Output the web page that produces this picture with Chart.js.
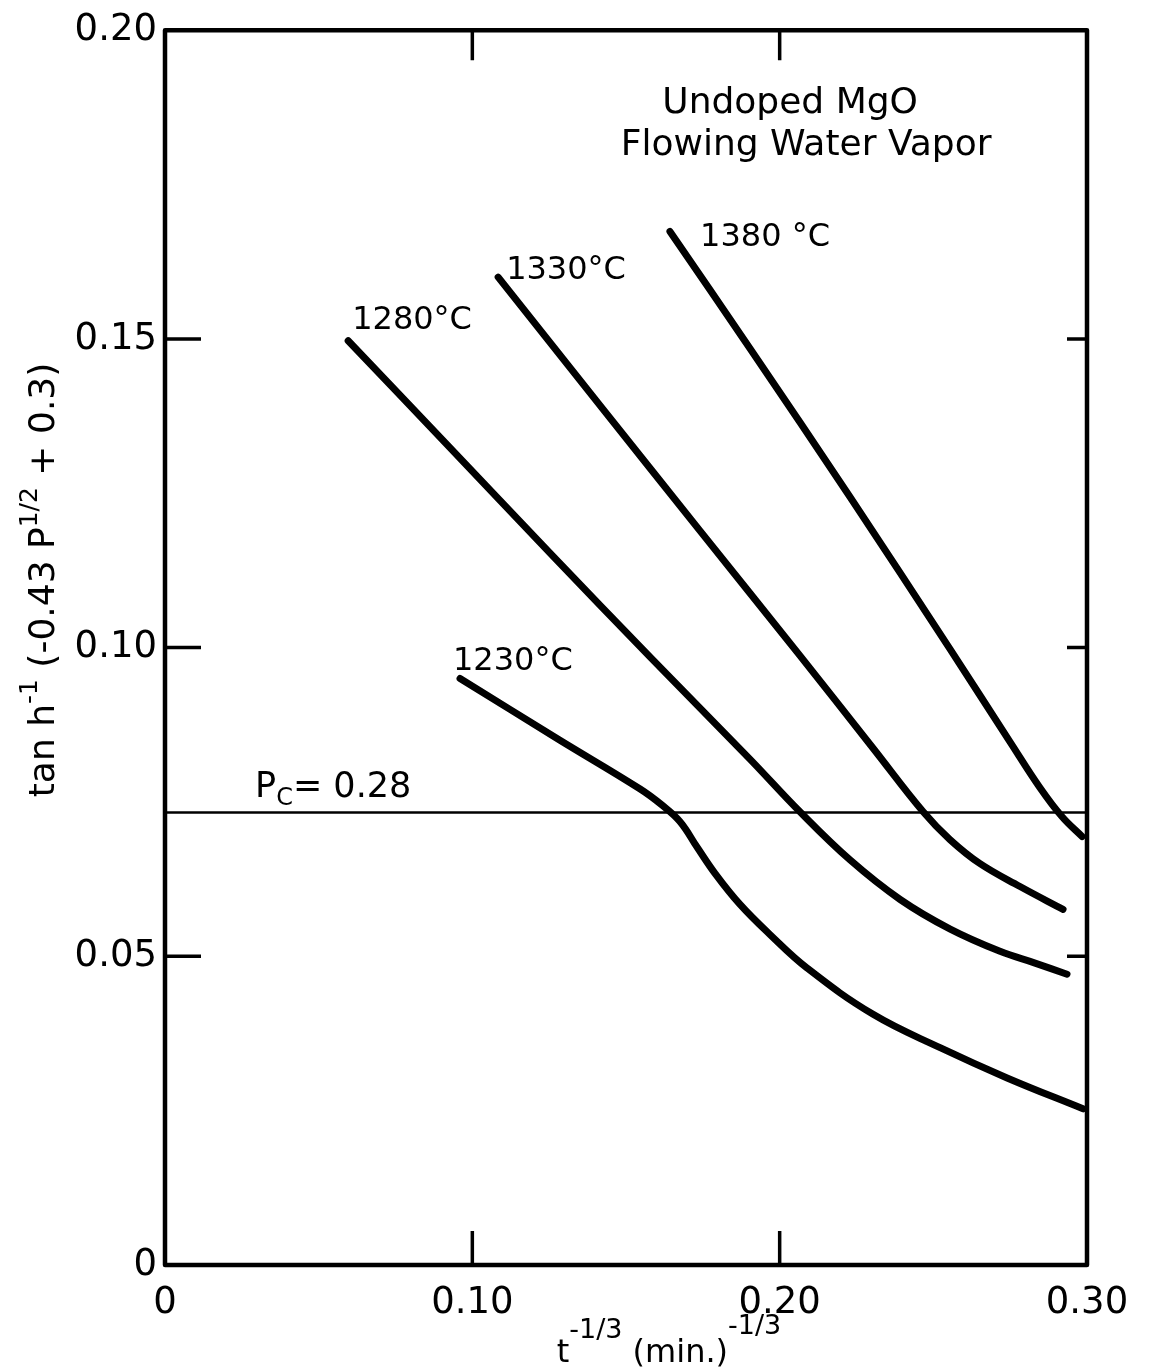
<!DOCTYPE html>
<html>
<head>
<meta charset="utf-8">
<title>Undoped MgO - Flowing Water Vapor</title>
<script src="https://cdn.jsdelivr.net/npm/chart.js@4/dist/chart.umd.min.js"></script>
<style>
  html, body { margin: 0; padding: 0; background: #fff; }
  canvas { display: block; }
</style>
</head>
<body>
<canvas id="mgo_chart" width="1158" height="1372"></canvas>
<script>
// x = t^-1/3 (min^-1/3), y = tanh^-1(-0.43 P^1/2 + 0.3), one curve per temperature
var x1230 = [0.0960, 0.1285, 0.1546, 0.1617, 0.1676, 0.1731, 0.1790, 0.1871, 0.1969, 0.2089, 0.2304, 0.2522, 0.2740, 0.2987];
var y1230 = [0.0950, 0.0850, 0.0771, 0.0745, 0.0718, 0.0677, 0.0634, 0.0584, 0.0535, 0.0481, 0.0406, 0.0352, 0.0303, 0.0253];

var x1280 = [0.0596, 0.0927, 0.1253, 0.1578, 0.1904, 0.2066, 0.2229, 0.2392, 0.2555, 0.2717, 0.2831, 0.2935];
var y1280 = [0.1497, 0.1324, 0.1153, 0.0985, 0.0819, 0.0734, 0.0656, 0.0592, 0.0544, 0.0508, 0.0489, 0.0471];

var x1330 = [0.1084, 0.1416, 0.1741, 0.2066, 0.2304, 0.2467, 0.2554, 0.2652, 0.2782, 0.2922];
var y1330 = [0.1600, 0.1392, 0.1189, 0.0987, 0.0837, 0.0734, 0.0689, 0.0650, 0.0613, 0.0576];

var x1380 = [0.1643, 0.1904, 0.2229, 0.2555, 0.2750, 0.2847, 0.2919, 0.2984];
var y1380 = [0.1674, 0.1484, 0.1244, 0.0997, 0.0847, 0.0773, 0.0726, 0.0694];

// critical pressure Pc = 0.28
var pcLevel = 0.0733;

var xTickValues = [0, 0.10, 0.20, 0.30];
var yTickValues = [0, 0.05, 0.10, 0.15, 0.20];
var xInnerTicks = [0.10, 0.20];
var yInnerTicks = [0.05, 0.10, 0.15];

var FONT = '"DejaVu Sans", sans-serif';

// label anchors in data units (left edge / baseline)
var curveLabels = [
    {text: '1230°C', x: 0.0937, y: 0.0963},
    {text: '1280°C', x: 0.0609, y: 0.1516},
    {text: '1330°C', x: 0.1110, y: 0.1597},
    {text: '1380 °C', x: 0.1741, y: 0.1650}
];

function toPoints(xs, ys) {
    return xs.map(function (x, i) { return {x: x, y: ys[i]}; });
}

function curve(xs, ys) {
    return {
        data: toPoints(xs, ys),
        showLine: true,
        borderColor: '#000',
        borderWidth: 7,
        borderCapStyle: 'round',
        borderJoinStyle: 'round',
        tension: 0.4,
        pointRadius: 0,
        pointHoverRadius: 0
    };
}

// draws a run of text pieces of different size / vertical offset
function drawRich(ctx, parts, x, y, align) {
    var total = 0;
    parts.forEach(function (p) {
        ctx.font = p.size + 'px ' + FONT;
        p.w = ctx.measureText(p.text).width;
        total += p.w;
    });
    var cx = align === 'center' ? x - total / 2 : x;
    ctx.textAlign = 'left';
    ctx.textBaseline = 'alphabetic';
    parts.forEach(function (p) {
        ctx.font = p.size + 'px ' + FONT;
        ctx.fillText(p.text, cx, y + (p.dy || 0));
        cx += p.w;
    });
}

var paperPlugin = {
    id: 'paper',
    beforeDraw: function (chart) {
        var ctx = chart.ctx;
        ctx.save();
        ctx.fillStyle = '#fff';
        ctx.fillRect(0, 0, chart.width, chart.height);
        ctx.restore();
    },
    afterDraw: function (chart) {
        var ctx = chart.ctx;
        var a = chart.chartArea;
        var xs = chart.scales.x, ys = chart.scales.y;
        ctx.save();
        ctx.strokeStyle = '#000';
        ctx.fillStyle = '#000';

        // frame
        ctx.lineWidth = 4.5;
        ctx.lineJoin = 'round';
        ctx.strokeRect(a.left, a.top, a.right - a.left, a.bottom - a.top);

        // inward tick marks
        ctx.lineWidth = 3.5;
        ctx.beginPath();
        yInnerTicks.forEach(function (v) {
            var py = ys.getPixelForValue(v);
            ctx.moveTo(a.left, py); ctx.lineTo(a.left + 36, py);
            ctx.moveTo(a.right, py); ctx.lineTo(a.right - 20, py);
        });
        xInnerTicks.forEach(function (v) {
            var px = xs.getPixelForValue(v);
            ctx.moveTo(px, a.bottom); ctx.lineTo(px, a.bottom - 34);
            ctx.moveTo(px, a.top); ctx.lineTo(px, a.top + 30);
        });
        ctx.stroke();

        // temperature labels
        ctx.font = '32px ' + FONT;
        ctx.textAlign = 'left';
        ctx.textBaseline = 'alphabetic';
        curveLabels.forEach(function (l) {
            ctx.fillText(l.text, xs.getPixelForValue(l.x), ys.getPixelForValue(l.y));
        });

        // Pc label
        drawRich(ctx, [
            {text: 'P', size: 35},
            {text: 'C', size: 24, dy: 8},
            {text: '= 0.28', size: 35}
        ], xs.getPixelForValue(0.0293), ys.getPixelForValue(0.0758), 'left');

        // sample / atmosphere note
        ctx.font = '36px ' + FONT;
        ctx.textAlign = 'center';
        ctx.fillText('Undoped MgO', xs.getPixelForValue(0.2034), ys.getPixelForValue(0.1866));
        ctx.fillText('Flowing Water Vapor', xs.getPixelForValue(0.2086), ys.getPixelForValue(0.1798));

        // x axis title
        drawRich(ctx, [
            {text: 't', size: 32},
            {text: '-1/3', size: 27, dy: -24},
            {text: ' (min.)', size: 32},
            {text: '-1/3', size: 27, dy: -28}
        ], 669, 1362, 'center');

        // y axis title, rotated
        ctx.translate(54, 580);
        ctx.rotate(-Math.PI / 2);
        drawRich(ctx, [
            {text: 'tan h', size: 36},
            {text: '-1', size: 25, dy: -17},
            {text: ' (-0.43 P', size: 36},
            {text: '1/2', size: 25, dy: -17},
            {text: ' + 0.3)', size: 36}
        ], 0, 0, 'center');

        ctx.restore();
    }
};

function fmtTick(v) {
    return v === 0 ? '0' : v.toFixed(2);
}

var mgo_config = {
    type: 'scatter',
    data: {
        datasets: [
            curve(x1230, y1230),
            curve(x1280, y1280),
            curve(x1330, y1330),
            curve(x1380, y1380),
            {
                data: toPoints([0, 0.30], [pcLevel, pcLevel]),
                showLine: true,
                borderColor: '#000',
                borderWidth: 2.5,
                pointRadius: 0,
                pointHoverRadius: 0
            }
        ]
    },
    options: {
        responsive: false,
        animation: false,
        events: [],
        layout: {padding: {top: 25, right: 71, left: 0, bottom: 0}},
        plugins: {
            legend: {display: false},
            tooltip: {enabled: false}
        },
        scales: {
            x: {
                type: 'linear',
                min: 0,
                max: 0.30,
                afterBuildTicks: function (scale) {
                    scale.ticks = xTickValues.map(function (v) { return {value: v}; });
                },
                afterFit: function (scale) { scale.height = 107; },
                grid: {display: false, drawTicks: false},
                border: {display: false},
                ticks: {
                    color: '#000',
                    font: {family: FONT, size: 37},
                    padding: 16,
                    maxRotation: 0,
                    autoSkip: false,
                    callback: fmtTick
                }
            },
            y: {
                type: 'linear',
                min: 0,
                max: 0.20,
                afterBuildTicks: function (scale) {
                    scale.ticks = yTickValues.map(function (v) { return {value: v}; });
                },
                afterFit: function (scale) { scale.width = 165; },
                grid: {display: false, drawTicks: false},
                border: {display: false},
                ticks: {
                    color: '#000',
                    font: {family: FONT, size: 37},
                    padding: 8,
                    autoSkip: false,
                    callback: fmtTick
                }
            }
        }
    },
    plugins: [paperPlugin]
};

var mgo_ctx = document.getElementById('mgo_chart').getContext('2d');
var mgo_chart = new Chart(mgo_ctx, mgo_config);
</script>
</body>
</html>
